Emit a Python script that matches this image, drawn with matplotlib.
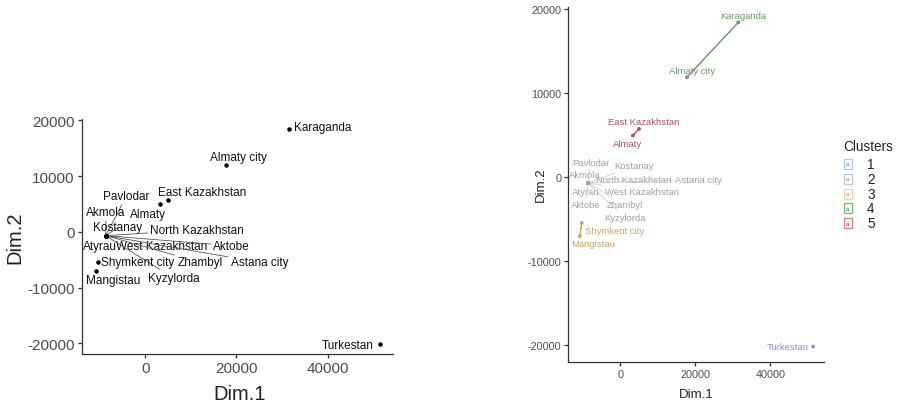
import matplotlib.pyplot as plt
from matplotlib.patches import Rectangle

plt.rcParams['font.family'] = ['Liberation Sans', 'DejaVu Sans']

# регионы, координаты на первых двух осях и номер кластера
regions = ["Karaganda", "Almaty city", "East Kazakhstan", "Almaty",
           "Pavlodar", "Akmola", "Kostanay", "North Kazakhstan", "Atyrau",
           "West Kazakhstan", "Aktobe", "Zhambyl", "Astana city", "Kyzylorda",
           "Shymkent city", "Mangistau", "Turkestan"]
dim1 = [31450, 17800, 4970, 3330,
        -8640, -8660, -8630, -8650, -8670,
        -8640, -8660, -8650, -8630, -8650,
        -10300, -10800, 51400]
dim2 = [18400, 11900, 5735, 4950,
        -690, -700, -710, -700, -690,
        -710, -700, -690, -700, -710,
        -5450, -7000, -20130]
clusters = [4, 4, 5, 5,
            2, 2, 2, 2, 2,
            2, 2, 2, 2, 2,
            3, 3, 1]
cluster_ids = [1, 2, 3, 4, 5]

x_ticks = [0, 20000, 40000]
y_ticks = [-20000, -10000, 0, 10000, 20000]

# сдвиги подписей (как у ggrepel) относительно точки
left_offsets = {
    "Karaganda": (7390, 310), "Almaty city": (2570, 1430),
    "East Kazakhstan": (7580, 1435), "Almaty": (-2680, -1780),
    "Pavlodar": (4550, 7150), "Akmola": (100, 4280),
    "Kostanay": (2650, 1490), "North Kazakhstan": (20040, 1060),
    "Atyrau": (-1300, -1810), "West Kazakhstan": (12300, -1810),
    "Aktobe": (27620, -1810), "Zhambyl": (20610, -4780),
    "Astana city": (33690, -4780), "Kyzylorda": (14920, -7600),
    "Shymkent city": (8680, -30), "Mangistau": (3790, -1660),
    "Turkestan": (-7020, -170),
}
right_offsets = {
    "Karaganda": (1270, 790), "Almaty city": (1400, 840),
    "East Kazakhstan": (1350, 835), "Almaty": (-1460, -910),
    "Pavlodar": (650, 2400), "Akmola": (-700, 990),
    "Kostanay": (12380, 2080), "North Kazakhstan": (12200, 400),
    "Atyrau": (-680, -1010), "West Kazakhstan": (14340, -1010),
    "Aktobe": (-500, -2550), "Zhambyl": (9800, -2550),
    "Astana city": (29500, 400), "Kyzylorda": (9800, -4050),
    "Shymkent city": (8780, -890), "Mangistau": (3520, -890),
    "Turkestan": (-6680, -20),
}

colors = {1: '#8294c6', 2: '#a0a0a0', 3: '#cca463', 4: '#689c68', 5: '#a9545c'}
key_edge = {1: '#a9c6ea', 2: '#c4c4c4', 3: '#f0d49a', 4: '#6fb46f', 5: '#e07a7a'}


def convex_hull(pts):
    pts = sorted(set(pts))
    if len(pts) < 3:
        return pts

    def cross(o, a, b):
        return (a[0] - o[0]) * (b[1] - o[1]) - (a[1] - o[1]) * (b[0] - o[0])
    lower, upper = [], []
    for p in pts:
        while len(lower) >= 2 and cross(lower[-2], lower[-1], p) <= 0:
            lower.pop()
        lower.append(p)
    for p in reversed(pts):
        while len(upper) >= 2 and cross(upper[-2], upper[-1], p) <= 0:
            upper.pop()
        upper.append(p)
    return lower[:-1] + upper[:-1]


def style_axes(ax, tick_size):
    ax.set_xlim(-13900, 54300)
    ax.set_ylim(-21930, 20230)
    ax.set_xticks(x_ticks)
    ax.set_yticks(y_ticks)
    ax.set_xticklabels([str(v) for v in x_ticks])
    ax.set_yticklabels([str(v) for v in y_ticks])
    for s in ['top', 'right']:
        ax.spines[s].set_visible(False)
    for s in ['left', 'bottom']:
        ax.spines[s].set_color('#333333')
        ax.spines[s].set_linewidth(0.9)
    ax.tick_params(labelsize=tick_size, colors='#333333', labelcolor='#4d4d4d',
                   length=3, width=0.9, pad=2)


fig = plt.figure(figsize=(9, 4.06), dpi=100)

# левая панель
ax1 = fig.add_axes([0.0908, 0.1256, 0.3459, 0.5788])
style_axes(ax1, 11)
for name, x, y, c in zip(regions, dim1, dim2, clusters):
    dx, dy = left_offsets[name]
    arrow = None
    if c == 2:
        arrow = dict(arrowstyle='-', color='#555555', lw=0.6, shrinkA=0, shrinkB=0)
    ax1.annotate(name, (x, y), xytext=(x + dx, y + dy), ha='center', va='center',
                 fontsize=8.5, color='#111111', arrowprops=arrow, zorder=3)
ax1.scatter(dim1, dim2, s=5, color='black', zorder=4)

# правая панель (кластеры)
ax2 = fig.add_axes([0.6314, 0.1067, 0.2841, 0.8736])
style_axes(ax2, 7.8)
for k in cluster_ids:
    pts = [(x, y) for x, y, c in zip(dim1, dim2, clusters) if c == k]
    hull = convex_hull(pts)
    if len(hull) >= 2:
        hx = [p[0] for p in hull] + [hull[0][0]]
        hy = [p[1] for p in hull] + [hull[0][1]]
        ax2.fill(hx, hy, color=colors[k], alpha=0.2, lw=0)
        ax2.plot(hx, hy, color=colors[k], lw=0.7)
for name, x, y, c in zip(regions, dim1, dim2, clusters):
    dx, dy = right_offsets[name]
    arrow = None
    if c == 2:
        arrow = dict(arrowstyle='-', color='#c4c4c4', lw=0.5, shrinkA=0, shrinkB=0)
    ax2.annotate(name, (x, y), xytext=(x + dx, y + dy), ha='center', va='center',
                 fontsize=6.8, color=colors[c], arrowprops=arrow, zorder=3)
ax2.scatter(dim1, dim2, s=3, color=[colors[c] for c in clusters], zorder=4)

# подписи осей и легенда в пиксельных координатах
lax = fig.add_axes([0, 0, 1, 1])
lax.set_xlim(0, 900)
lax.set_ylim(406, 0)
lax.axis('off')
lax.text(240, 395, "Dim.1", fontsize=14.5, ha='center', va='center', color='#222222')
lax.text(15, 238, "Dim.2", fontsize=14.5, ha='center', va='center', rotation=90, color='#222222')
lax.text(696, 395, "Dim.1", fontsize=9.5, ha='center', va='center', color='#222222')
lax.text(541, 185, "Dim.2", fontsize=9.5, ha='center', va='center', rotation=90, color='#222222')

lax.text(843, 147, "Clusters", fontsize=9.8, ha='left', va='center', color='#222222')
for i, k in enumerate(cluster_ids):
    yc = 165 + i * 14.8
    lax.add_patch(Rectangle((844, yc - 5), 7.5, 10, facecolor='white',
                            edgecolor=key_edge[k], lw=0.9))
    lax.text(847.8, yc, "a", fontsize=4.5, ha='center', va='center',
             color=colors[k], fontweight='bold')
    lax.text(867, yc, str(k), fontsize=9.8, ha='left', va='center', color='#222222')

fig.savefig("out.png", dpi=100)
